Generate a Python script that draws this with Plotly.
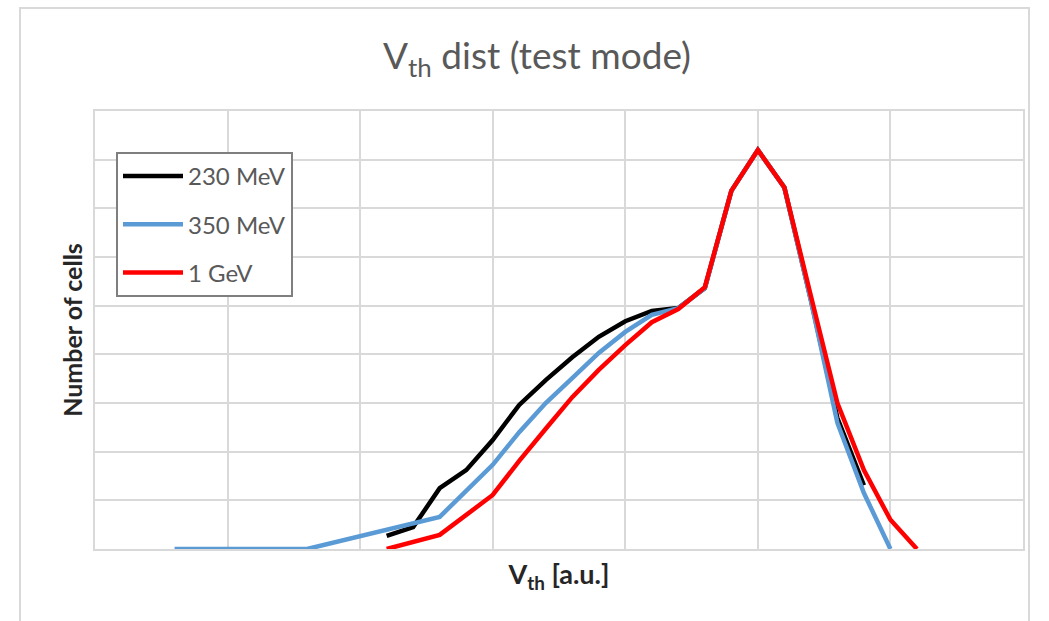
import plotly.graph_objects as go

# ---- data (V_th in arbitrary units, number of cells in arbitrary units) ----
x_230 = [2.2, 2.4, 2.6, 2.8, 3.0, 3.2, 3.4, 3.6, 3.8, 4.0, 4.2, 4.4, 4.6, 4.8, 5.0, 5.2, 5.4, 5.6, 5.8]
y_230 = [0.27, 0.45, 1.25, 1.62, 2.24, 2.96, 3.47, 3.94, 4.36, 4.68, 4.89, 4.95, 5.36, 7.36, 8.20, 7.43, 5.12, 2.69, 1.31]

x_350 = [0.6, 1.6, 2.6, 3.0, 3.2, 3.4, 3.6, 3.8, 4.0, 4.2, 4.4, 4.6, 4.8, 5.0, 5.2, 5.4, 5.6, 5.8, 6.0]
y_350 = [0.0, 0.0, 0.66, 1.73, 2.40, 3.00, 3.51, 4.03, 4.46, 4.81, 4.95, 5.36, 7.36, 8.20, 7.43, 5.10, 2.59, 1.15, 0.0]

x_1g = [2.2, 2.6, 3.0, 3.2, 3.4, 3.6, 3.8, 4.0, 4.2, 4.4, 4.6, 4.8, 5.0, 5.2, 5.4, 5.6, 5.8, 6.0, 6.2]
y_1g = [0.0, 0.29, 1.11, 1.81, 2.47, 3.12, 3.68, 4.19, 4.66, 4.93, 5.38, 7.36, 8.20, 7.43, 5.20, 3.00, 1.62, 0.60, 0.0]

series_names = ["230 MeV", "350 MeV", "1 GeV"]
series_colors = ["#000000", "#5b9bd5", "#ff0000"]

FONT = "Lato"
GRID = "#d9d9d9"
TEXT = "#595959"

fig = go.Figure()
for i, (xs, ys) in enumerate([(x_230, y_230), (x_350, y_350), (x_1g, y_1g)]):
    fig.add_trace(go.Scatter(
        x=xs, y=ys, mode="lines", name=series_names[i],
        legendgroup=f"g{i}",
        line=dict(color=series_colors[i], width=4.5),
    ))

fig.update_layout(
    width=1049, height=621,
    margin=dict(l=95, r=26, t=111, b=72),
    paper_bgcolor="white", plot_bgcolor="white",
    font=dict(family=FONT, color=TEXT),
    title=dict(
        text="V<sub>th</sub> dist (test mode)",
        x=537 / 1049, xref="container", xanchor="center",
        y=1 - 56 / 621, yref="container", yanchor="middle",
        font=dict(family=FONT, size=37, color=TEXT),
    ),
    showlegend=True,
    legend=dict(
        x=(116 - 95) / 928, y=(549 - 152) / 438,
        xanchor="left", yanchor="top",
        bgcolor="white", bordercolor="#7f7f7f", borderwidth=2,
        font=dict(family=FONT, size=24, color=TEXT),
        tracegroupgap=14,
        itemwidth=60,
    ),
    xaxis=dict(
        range=[0, 7], dtick=1, tick0=0,
        showticklabels=False, ticks="",
        showgrid=True, gridcolor=GRID, gridwidth=2,
        showline=True, linecolor=GRID, linewidth=2, mirror=True,
        zeroline=False,
        title=dict(text="<b>V<sub>th</sub> [a.u.]</b>", standoff=15,
                   font=dict(family=FONT, size=27, color="#262626")),
    ),
    yaxis=dict(
        range=[0, 9], dtick=1, tick0=0,
        showticklabels=False, ticks="",
        showgrid=True, gridcolor=GRID, gridwidth=2,
        showline=True, linecolor=GRID, linewidth=2, mirror=True,
        zeroline=False,
        title=dict(text="<b>Number of cells</b>", standoff=3,
                   font=dict(family=FONT, size=25, color="#262626")),
    ),
    shapes=[dict(
        type="rect", xref="paper", yref="paper",
        x0=(20 - 95) / 928, x1=(1029 - 95) / 928,
        y0=(549 - 640) / 438, y1=(549 - 8) / 438,
        line=dict(color=GRID, width=2), fillcolor="rgba(0,0,0,0)", layer="below",
    )],
)

fig.write_html("out.html")
